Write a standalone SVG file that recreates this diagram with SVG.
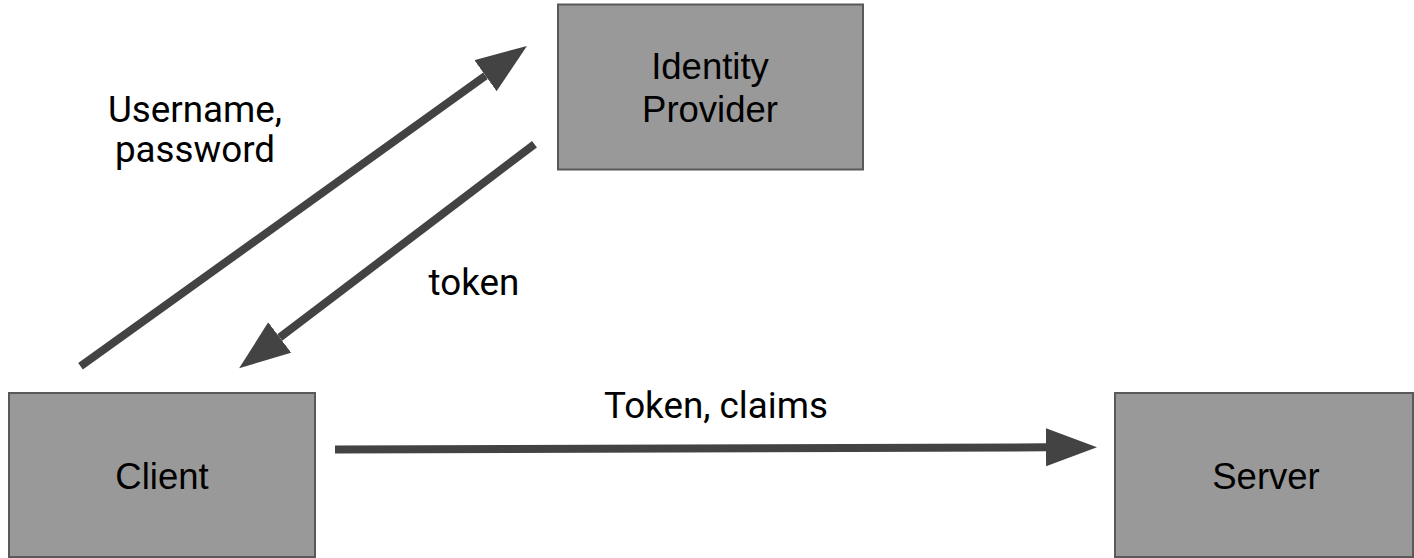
<svg xmlns="http://www.w3.org/2000/svg" width="1414" height="558" viewBox="0 0 1414 558">
  <style>
    .box { fill: #999999; stroke: #595959; stroke-width: 2; }
    .box-text { font-family: "Liberation Sans", Arial, sans-serif; font-size: 36.5px; fill: #000000; text-anchor: middle; }
    .label { font-family: Roboto, "Liberation Sans", sans-serif; font-size: 36.8px; fill: #000000; text-anchor: middle; }
    .edge { stroke: #434343; stroke-width: 8; fill: none; stroke-linecap: butt; }
  </style>
  <defs>
    <marker id="arrow" markerUnits="userSpaceOnUse" markerWidth="52" markerHeight="40" refX="0" refY="19" orient="auto">
      <path d="M0,0 L51,19 L0,38 Z" fill="#434343"/>
    </marker>
  </defs>

  <rect width="1414" height="558" fill="#ffffff"/>

  <!-- connectors -->
  <g id="connectors">
    <line class="edge" x1="80.5" y1="366.3" x2="485.5" y2="75.7" marker-end="url(#arrow)"/>
    <line class="edge" x1="534.5" y1="144.2" x2="279.7" y2="337.5" marker-end="url(#arrow)"/>
    <line class="edge" x1="335" y1="449.5" x2="1046" y2="447.3" marker-end="url(#arrow)"/>
    <text class="label" x="195" y="122">Username,</text>
    <text class="label" x="195" y="162">password</text>
    <text class="label" x="474" y="295">token</text>
    <text class="label" x="716" y="418">Token, claims</text>
  </g>

  <!-- nodes -->
  <g id="identity-provider">
    <rect class="box" x="558" y="4.5" width="305" height="165"/>
    <text class="box-text" x="710" y="78.5">Identity</text>
    <text class="box-text" x="710" y="121.5">Provider</text>
  </g>
  <g id="client">
    <rect class="box" x="9" y="393" width="306" height="164"/>
    <text class="box-text" x="162" y="489">Client</text>
  </g>
  <g id="server">
    <rect class="box" x="1115" y="393" width="298" height="164"/>
    <text class="box-text" x="1266" y="489">Server</text>
  </g>
</svg>
